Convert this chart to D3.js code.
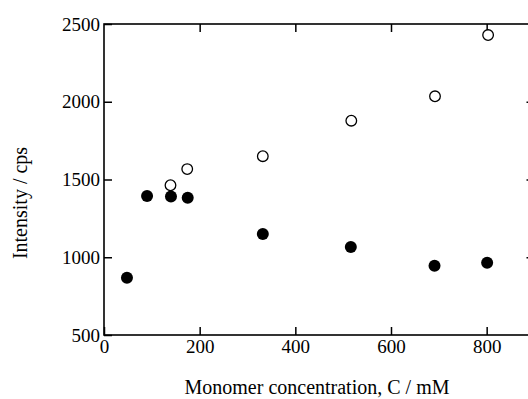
<!DOCTYPE html>
<html><head><meta charset="utf-8">
<script src="https://cdn.jsdelivr.net/npm/d3@7"></script>
<style>
html,body{margin:0;padding:0;background:#fff;}
svg{display:block;}
text{font-family:"Liberation Serif","Times New Roman",serif;fill:#000;}
</style></head>
<body>
<script>
// Data
const filledX = [48, 90, 140, 175, 332, 516, 691, 801];
const filledY = [868, 1394, 1391, 1383, 1150, 1066, 946, 965];
const openX = [139, 174, 332, 517, 692, 803];
const openY = [1463, 1567, 1650, 1878, 2035, 2429];
const xTicks = [0, 200, 400, 600, 800];
const yTicks = [500, 1000, 1500, 2000, 2500];
const xTitle = "Monomer concentration, C / mM";
const yTitle = "Intensity / cps";

const W = 528, H = 399;
const svg = d3.select("body").append("svg").attr("width", W).attr("height", H);

const x = d3.scaleLinear().domain([0, 900]).range([104, 534.5]);
const y = d3.scaleLinear().domain([500, 2500]).range([335, 24]);

const fs = 19, tfs = 20;
function style(g){
  g.select(".domain").remove();
  g.selectAll(".tick line").attr("stroke", "#000").attr("stroke-width", 1.5);
  g.selectAll(".tick text").style("font-family", '"Liberation Serif",serif').style("font-size", fs + "px").attr("fill", "#000");
}

// Frame
svg.append("rect").attr("x", x(0)).attr("y", y(2500))
  .attr("width", x(900) - x(0)).attr("height", y(500) - y(2500))
  .attr("fill", "none").attr("stroke", "#000").attr("stroke-width", 1.6);

// Bottom axis
svg.append("g").attr("transform", `translate(0,${y(500)})`)
  .call(d3.axisBottom(x).tickValues(xTicks).tickSize(-8).tickPadding(5).tickFormat(d3.format("d")))
  .call(style);
// Left axis
svg.append("g").attr("transform", `translate(${x(0)},0)`)
  .call(d3.axisLeft(y).tickValues(yTicks).tickSize(-8).tickPadding(4).tickFormat(d3.format("d")))
  .call(style);
// Top axis (ticks only)
svg.append("g").attr("transform", `translate(0,${y(2500)})`)
  .call(d3.axisTop(x).tickValues(xTicks.filter(d => d > 0)).tickSize(-8).tickFormat(""))
  .call(style);
// Right axis (ticks only)
svg.append("g").attr("transform", `translate(${x(900)},0)`)
  .call(d3.axisRight(y).tickValues(yTicks.filter(d => d > 500 && d < 2500)).tickSize(-8).tickFormat(""))
  .call(style);

// Points
const filled = filledX.map((d, i) => ({x: d, y: filledY[i]}));
const open = openX.map((d, i) => ({x: d, y: openY[i]}));

svg.append("g").selectAll("circle").data(open).join("circle")
  .attr("cx", d => x(d.x)).attr("cy", d => y(d.y)).attr("r", 5.3)
  .attr("fill", "#fff").attr("stroke", "#000").attr("stroke-width", 1.3);
svg.append("g").selectAll("circle").data(filled).join("circle")
  .attr("cx", d => x(d.x)).attr("cy", d => y(d.y)).attr("r", 6)
  .attr("fill", "#000");

// Titles
svg.append("text").attr("x", 317).attr("y", 394).attr("text-anchor", "middle")
  .style("font-size", tfs + "px").text(xTitle);
svg.append("text").attr("transform", `translate(27,203) rotate(-90)`).attr("text-anchor", "middle")
  .style("font-size", tfs + "px").text(yTitle);
</script>
</body></html>
